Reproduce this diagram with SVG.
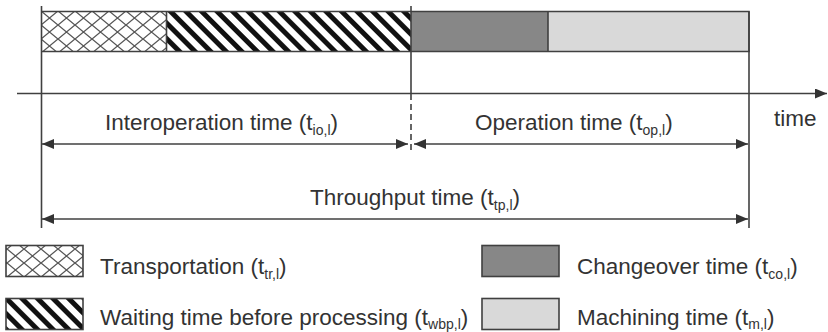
<svg xmlns="http://www.w3.org/2000/svg" width="828" height="332" viewBox="0 0 828 332">
  <defs>
    <pattern id="cross" width="17" height="14" patternUnits="userSpaceOnUse" x="41" y="11">
      <rect width="17" height="14" fill="#ffffff"/>
      <path d="M0,0 L17,14 M17,0 L0,14" stroke="#555555" stroke-width="1.3"/>
    </pattern>
    <pattern id="stripes" width="11" height="11" patternUnits="userSpaceOnUse" patternTransform="rotate(-45)">
      <rect width="11" height="11" fill="#ffffff"/>
      <rect width="5" height="11" fill="#111111"/>
    </pattern>
    <marker id="ah" viewBox="0 0 12 10" refX="12" refY="5" markerWidth="12" markerHeight="10" markerUnits="userSpaceOnUse" orient="auto-start-reverse">
      <path d="M0,0 L12,5 L0,10 Z" fill="#333333"/>
    </marker>
  </defs>
  <style>
    text { font-family: "Liberation Sans", Arial, sans-serif; font-size: 22.5px; fill: #333333; }
    .sub { font-size: 14px; }
    .ln { stroke: #404040; stroke-width: 1.6; fill: none; }
    .box { stroke: #404040; stroke-width: 1.6; }
  </style>

  <!-- time bar -->
  <g id="bar">
    <rect x="41.5" y="11.5" width="125" height="40" fill="url(#cross)"/>
    <rect x="166.5" y="11.5" width="244.5" height="40" fill="url(#stripes)"/>
    <rect x="411" y="11.5" width="137" height="40" fill="#878787"/>
    <rect x="548" y="11.5" width="201" height="40" fill="#d9d9d9"/>
    <path class="ln" d="M41.5,11.5 H749 V51.5 H41.5 M166.5,11.5 V51.5 M548,11.5 V51.5"/>
  </g>

  <!-- axes, boundaries and spans -->
  <g id="connectors">
    <path class="ln" d="M41.5,6 V228"/>
    <path class="ln" d="M749,11.5 V228"/>
    <path class="ln" d="M411,6 V94"/>
    <path class="ln" d="M411,94 V152" stroke-dasharray="6,4"/>
    <line class="ln" x1="17" y1="93.5" x2="827" y2="93.5" marker-end="url(#ah)"/>
    <line class="ln" x1="42" y1="144" x2="408" y2="144" marker-start="url(#ah)" marker-end="url(#ah)"/>
    <line class="ln" x1="414" y1="144" x2="748" y2="144" marker-start="url(#ah)" marker-end="url(#ah)"/>
    <line class="ln" x1="42" y1="219" x2="748" y2="219" marker-start="url(#ah)" marker-end="url(#ah)"/>
  </g>

  <g id="labels">
    <text x="105" y="130">Interoperation time (t<tspan class="sub" dy="5">io,l</tspan><tspan dy="-5">)</tspan></text>
    <text x="475" y="130">Operation time (t<tspan class="sub" dy="5">op,l</tspan><tspan dy="-5">)</tspan></text>
    <text x="774" y="126">time</text>
    <text x="310" y="205">Throughput time (t<tspan class="sub" dy="5">tp,l</tspan><tspan dy="-5">)</tspan></text>
  </g>

  <!-- legend -->
  <g id="legend-transport">
    <rect class="box" x="6" y="245.5" width="77" height="31" fill="url(#cross)"/>
    <text x="100" y="274">Transportation (t<tspan class="sub" dy="5">tr,l</tspan><tspan dy="-5">)</tspan></text>
  </g>
  <g id="legend-waiting">
    <rect class="box" x="6" y="298.5" width="77" height="31" fill="url(#stripes)"/>
    <text x="100" y="325">Waiting time before processing (t<tspan class="sub" dy="4">wbp,l</tspan><tspan dy="-4">)</tspan></text>
  </g>
  <g id="legend-changeover">
    <rect class="box" x="482" y="245.5" width="77" height="31" fill="#878787"/>
    <text x="577" y="274">Changeover time (t<tspan class="sub" dy="5">co,l</tspan><tspan dy="-5">)</tspan></text>
  </g>
  <g id="legend-machining">
    <rect class="box" x="482" y="298.5" width="77" height="31" fill="#d9d9d9"/>
    <text x="577" y="325">Machining time (t<tspan class="sub" dy="4">m,l</tspan><tspan dy="-4">)</tspan></text>
  </g>
</svg>
